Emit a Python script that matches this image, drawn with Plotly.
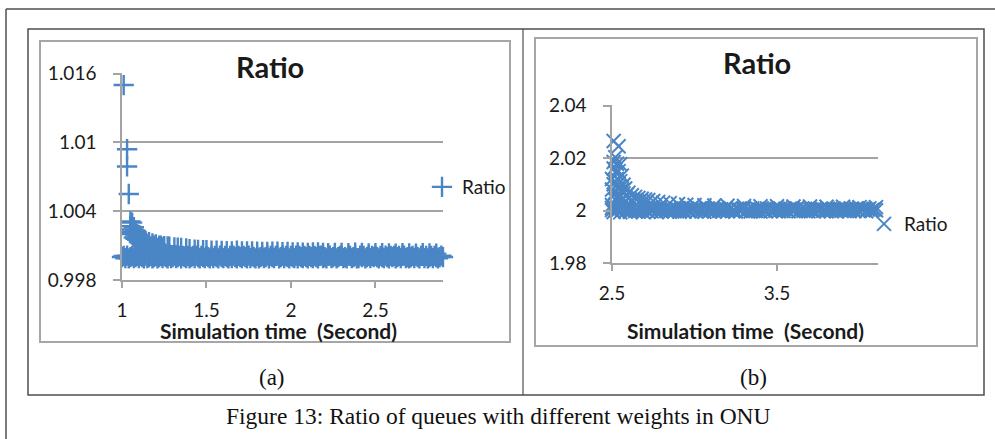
import plotly.graph_objects as go

W, H = 995, 439


def px(x):
    return x / W


def py(y):
    return 1 - y / H


BLUE = "#4A86C6"
GRID = "#A3A3A3"
TXT = "#1A1A1A"
FRAME = "#4F4F4F"
FONT = "Lato"

# ---------------- data: chart (a) ----------------
tail_a_x = [1.01, 1.03, 1.03, 1.04, 1.05, 1.05, 1.06, 1.06, 1.07, 1.07, 1.08, 1.08, 1.09, 1.10,
            1.11, 1.12, 1.13, 1.14, 1.16, 1.18, 1.20, 1.22, 1.25, 1.28, 1.31, 1.35, 1.40,
            1.45, 1.50, 1.56, 1.62, 1.68, 1.74, 1.80, 1.86, 1.92, 1.98, 2.04, 2.10, 2.16,
            2.22, 2.30, 2.38, 2.46, 2.54, 2.62, 2.70, 2.78, 2.86,
            1.05, 1.06, 1.07, 1.08, 1.09, 1.10, 1.11, 1.12, 1.13, 1.15, 1.17, 1.19, 1.21,
            1.24, 1.23, 1.27, 1.33, 1.38, 1.43, 1.48, 1.53, 1.59, 1.65, 1.71, 1.77, 1.83,
            1.89, 1.95, 2.01, 2.07, 2.13, 2.19, 2.26, 2.34, 2.42, 2.50, 2.58, 2.66, 2.74,
            2.82]
tail_a_y = [1.0150, 1.0094, 1.0079, 1.0055, 1.0031, 1.0027, 1.0030, 1.0024, 1.0026, 1.0021,
            1.0023, 1.0019, 1.0020, 1.0018, 1.0017, 1.0016, 1.0015, 1.0014, 1.0013, 1.0012,
            1.0011, 1.0010, 1.00095, 1.0009, 1.00085, 1.0008, 1.00068,
            1.00062, 1.0006, 1.00056, 1.00052, 1.00055, 1.0005, 1.00048, 1.00046, 1.00048,
            1.00044, 1.0004, 1.00036, 1.0004, 1.00034, 1.00036, 1.00038, 1.00033, 1.00034,
            1.0003, 1.00033, 1.00034, 1.0003,
            1.0022, 1.0020, 1.0017, 1.0016, 1.0015, 1.0013, 1.0012, 1.0011, 1.0010, 1.0011,
            1.0009, 1.0010, 1.0008, 1.00085, 1.0010, 1.00092, 1.00082, 1.00076, 1.00064,
            1.0006, 1.00055, 1.00054, 1.0005, 1.00049, 1.0005, 1.00046, 1.00047, 1.00043,
            1.00041, 1.00038, 1.0004, 1.00036, 1.00037, 1.00034, 1.00036, 1.00035, 1.00032,
            1.00034, 1.0003, 1.00032]

band_a_x = [
    1.00, 1.01, 1.02, 1.03, 1.04, 1.05, 1.06, 1.07, 1.08, 1.09,
    1.10, 1.11, 1.12, 1.13, 1.14, 1.15, 1.16, 1.17, 1.18, 1.19,
    1.20, 1.21, 1.22, 1.23, 1.24, 1.25, 1.26, 1.27, 1.28, 1.29,
    1.30, 1.31, 1.32, 1.33, 1.34, 1.35, 1.36, 1.37, 1.38, 1.39,
    1.40, 1.41, 1.42, 1.43, 1.44, 1.45, 1.46, 1.47, 1.48, 1.49,
    1.50, 1.51, 1.52, 1.53, 1.54, 1.55, 1.56, 1.57, 1.58, 1.59,
    1.60, 1.61, 1.62, 1.63, 1.64, 1.65, 1.66, 1.67, 1.68, 1.69,
    1.70, 1.71, 1.72, 1.73, 1.74, 1.75, 1.76, 1.77, 1.78, 1.79,
    1.80, 1.81, 1.82, 1.83, 1.84, 1.85, 1.86, 1.87, 1.88, 1.89,
    1.90, 1.91, 1.92, 1.93, 1.94, 1.95, 1.96, 1.97, 1.98, 1.99,
    2.00, 2.01, 2.02, 2.03, 2.04, 2.05, 2.06, 2.07, 2.08, 2.09,
    2.10, 2.11, 2.12, 2.13, 2.14, 2.15, 2.16, 2.17, 2.18, 2.19,
    2.20, 2.21, 2.22, 2.23, 2.24, 2.25, 2.26, 2.27, 2.28, 2.29,
    2.30, 2.31, 2.32, 2.33, 2.34, 2.35, 2.36, 2.37, 2.38, 2.39,
    2.40, 2.41, 2.42, 2.43, 2.44, 2.45, 2.46, 2.47, 2.48, 2.49,
    2.50, 2.51, 2.52, 2.53, 2.54, 2.55, 2.56, 2.57, 2.58, 2.59,
    2.60, 2.61, 2.62, 2.63, 2.64, 2.65, 2.66, 2.67, 2.68, 2.69,
    2.70, 2.71, 2.72, 2.73, 2.74, 2.75, 2.76, 2.77, 2.78, 2.79,
    2.80, 2.81, 2.82, 2.83, 2.84, 2.85, 2.86, 2.87, 2.88, 2.89,
    2.90]
band_a_y = [
    1.0000, 1.0001, 0.9999, 1.00012, 0.99988, 1.0000, 1.0001, 0.9999, 1.0000, 1.00011,
    0.9999, 1.0001, 1.0000, 0.99989, 1.00012, 0.9999, 1.0000, 1.0001, 0.99988, 1.0000,
    1.0001, 0.99988, 1.0000, 1.0001, 0.9999, 1.00011, 1.0000, 0.99989, 1.0001, 0.9999,
    1.0000, 1.00012, 0.9999, 1.0000, 1.0001, 0.99988, 1.0001, 1.0000, 0.9999, 1.00011,
    0.99989, 1.0000, 1.0001, 0.9999, 1.00012, 1.0000, 0.99988, 1.0001, 1.0000, 0.9999,
    1.0001, 1.0000, 0.99988, 1.00011, 0.9999, 1.0001, 1.0000, 0.99989, 1.00012, 1.0000,
    0.9999, 1.00011, 1.0000, 0.99988, 1.0001, 0.9999, 1.00012, 1.0000, 0.99989, 1.0001,
    1.0000, 0.9999, 1.0001, 1.0000, 0.99988, 1.00012, 0.9999, 1.0001, 1.0000, 0.99989,
    1.00011, 0.99988, 1.0000, 1.0001, 0.9999, 1.0000, 1.00012, 0.99989, 1.0001, 1.0000,
    0.9999, 1.0001, 1.00012, 0.99988, 1.0000, 1.0001, 0.9999, 1.00011, 1.0000, 0.99989,
    1.0001, 1.0000, 0.9999, 1.00012, 0.99988, 1.0001, 1.0000, 0.9999, 1.00011, 1.0000,
    0.99988, 1.0001, 1.0000, 0.9999, 1.00011, 1.0000, 0.99989, 1.0001, 1.00012, 0.9999,
    1.0000, 0.99989, 1.0001, 1.00012, 0.9999, 1.0000, 1.0001, 0.99988, 1.0000, 1.00011,
    1.0001, 0.9999, 1.0000, 0.99988, 1.00012, 1.0001, 0.9999, 1.0000, 1.00011, 0.99989,
    0.9999, 1.00012, 1.0000, 1.0001, 0.99988, 1.0000, 1.00011, 0.9999, 1.0001, 1.0000,
    1.00011, 1.0000, 0.99989, 1.0001, 1.0000, 0.9999, 1.00012, 1.0000, 0.99988, 1.0001,
    1.0000, 1.0001, 0.99988, 1.0000, 1.00011, 0.9999, 1.0001, 1.00012, 0.9999, 1.0000,
    0.99989, 1.0000, 1.0001, 0.9999, 1.00012, 1.0000, 0.99988, 1.0001, 1.00011, 0.9999,
    1.0001, 0.99988, 1.0000, 1.00011, 0.9999, 1.0001, 1.0000, 0.99989, 1.0000, 1.00012,
    1.0000]

a_xtick_vals = [1, 1.5, 2, 2.5]
a_xtick_text = ["1", "1.5", "2", "2.5"]
a_ytick_vals = [0.998, 1.004, 1.010, 1.016]
a_ytick_text = ["0.998", "1.004", "1.01", "1.016"]

# ---------------- data: chart (b) ----------------
tail_b_x = [2.50, 2.50, 2.50, 2.51, 2.54, 2.52, 2.51, 2.53, 2.55, 2.51, 2.52, 2.54, 2.56,
            2.53, 2.55, 2.51, 2.57, 2.54, 2.58, 2.56, 2.52, 2.60, 2.59, 2.62, 2.55, 2.64,
            2.66, 2.68, 2.70, 2.72, 2.75, 2.78, 2.81, 2.85, 2.90, 2.95, 3.00, 3.06, 3.12,
            3.20, 3.30, 3.40, 3.50, 3.60, 3.70, 3.80, 3.90, 4.00, 4.10,
            2.50, 2.51, 2.52, 2.53, 2.54, 2.56, 2.57, 2.53, 2.55, 2.52, 2.57, 2.58, 2.60,
            2.62]
tail_b_y = [2.0021, 2.0120, 2.0080, 2.0265, 2.0245, 2.0203, 2.0185, 2.0178, 2.0176, 2.0160,
            2.0146, 2.0150, 2.0133, 2.0120, 2.0112, 2.0100, 2.0098, 2.0090, 2.0084, 2.0078,
            2.0070, 2.0068, 2.0060, 2.0058, 2.0055, 2.0052, 2.0048, 2.0045, 2.0042, 2.0040,
            2.0036, 2.0033, 2.0030, 2.0028, 2.0025, 2.0022, 2.0021, 2.0020, 2.0019, 2.0018,
            2.0017, 2.0016, 2.0016, 2.0015, 2.0015, 2.0014, 2.0014, 2.0013, 2.0013,
            2.0010, 2.0060, 2.0040, 2.0050, 2.0030, 2.0040, 2.0065, 2.0095, 2.0085, 2.0110,
            2.0045, 2.0035, 2.0045, 2.0035]

band_b_x = [
    2.50, 2.51, 2.52, 2.53, 2.54, 2.55, 2.56, 2.57, 2.58, 2.59,
    2.60, 2.61, 2.62, 2.63, 2.64, 2.65, 2.66, 2.67, 2.68, 2.69,
    2.70, 2.71, 2.72, 2.73, 2.74, 2.75, 2.76, 2.77, 2.78, 2.79,
    2.80, 2.81, 2.82, 2.83, 2.84, 2.85, 2.86, 2.87, 2.88, 2.89,
    2.90, 2.91, 2.92, 2.93, 2.94, 2.95, 2.96, 2.97, 2.98, 2.99,
    3.00, 3.01, 3.02, 3.03, 3.04, 3.05, 3.06, 3.07, 3.08, 3.09,
    3.10, 3.11, 3.12, 3.13, 3.14, 3.15, 3.16, 3.17, 3.18, 3.19,
    3.20, 3.21, 3.22, 3.23, 3.24, 3.25, 3.26, 3.27, 3.28, 3.29,
    3.30, 3.31, 3.32, 3.33, 3.34, 3.35, 3.36, 3.37, 3.38, 3.39,
    3.40, 3.41, 3.42, 3.43, 3.44, 3.45, 3.46, 3.47, 3.48, 3.49,
    3.50, 3.51, 3.52, 3.53, 3.54, 3.55, 3.56, 3.57, 3.58, 3.59,
    3.60, 3.61, 3.62, 3.63, 3.64, 3.65, 3.66, 3.67, 3.68, 3.69,
    3.70, 3.71, 3.72, 3.73, 3.74, 3.75, 3.76, 3.77, 3.78, 3.79,
    3.80, 3.81, 3.82, 3.83, 3.84, 3.85, 3.86, 3.87, 3.88, 3.89,
    3.90, 3.91, 3.92, 3.93, 3.94, 3.95, 3.96, 3.97, 3.98, 3.99,
    4.00, 4.01, 4.02, 4.03, 4.04, 4.05, 4.06, 4.07, 4.08, 4.09,
    4.10]
band_b_y = [
    2.0002, 1.9994, 2.0009, 1.9999, 2.0006, 1.9993, 2.0004, 2.0010, 1.9997, 2.0001,
    2.0007, 1.9994, 2.0003, 2.0009, 1.9998, 2.0005, 1.9996, 2.0008, 2.0000, 1.9994,
    2.0006, 2.0001, 1.9995, 2.0009, 1.9997, 2.0004, 2.0007, 1.9994, 2.0002, 2.0008,
    1.9996, 2.0005, 2.0009, 1.9998, 2.0003, 1.9995, 2.0008, 2.0001, 1.9997, 2.0006,
    2.0004, 1.9995, 2.0008, 2.0000, 1.9996, 2.0007, 2.0002, 1.9997, 2.0009, 1.9999,
    2.0005, 1.9996, 2.0003, 2.0008, 1.9998, 2.0006, 1.9995, 2.0004, 2.0008, 1.9997,
    2.0001, 2.0007, 1.9996, 2.0003, 2.0009, 1.9998, 2.0005, 1.9996, 2.0002, 2.0007,
    1.9997, 2.0004, 2.0008, 1.9999, 2.0002, 1.9996, 2.0007, 2.0003, 1.9998, 2.0006,
    2.0008, 1.9997, 2.0002, 2.0005, 1.9996, 2.0008, 2.0000, 1.9998, 2.0006, 2.0003,
    1.9996, 2.0007, 2.0001, 1.9998, 2.0008, 2.0004, 1.9997, 2.0002, 2.0007, 1.9999,
    2.0005, 1.9997, 2.0008, 2.0002, 1.9998, 2.0006, 2.0001, 1.9997, 2.0007, 2.0003,
    1.9998, 2.0004, 2.0008, 1.9997, 2.0002, 2.0006, 1.9999, 2.0007, 2.0001, 1.9997,
    2.0006, 2.0002, 1.9998, 2.0008, 2.0003, 1.9997, 2.0005, 2.0007, 1.9999, 2.0002,
    1.9997, 2.0007, 2.0003, 1.9998, 2.0006, 2.0001, 1.9997, 2.0008, 2.0004, 1.9999,
    2.0004, 1.9998, 2.0007, 2.0002, 1.9997, 2.0006, 2.0003, 1.9999, 2.0008, 2.0001,
    1.9998, 2.0006, 2.0002, 2.0007, 1.9997, 2.0004, 2.0008, 1.9999, 2.0003, 2.0006,
    2.0001]

b_xtick_vals = [2.5, 3.5]
b_xtick_text = ["2.5", "3.5"]
b_ytick_vals = [1.98, 2.00, 2.02, 2.04]
b_ytick_text = ["1.98", "2", "2.02", "2.04"]

series_name = "Ratio"
chart_title = "Ratio"
x_title = "Simulation time  (Second)"
labels = ["(a)", "(b)"]
caption = "Figure 13: Ratio of queues with different weights in ONU"

fig = go.Figure()
fig.add_trace(go.Scatter(
    x=tail_a_x + band_a_x, y=tail_a_y + band_a_y, mode="markers", name=series_name,
    marker=dict(symbol="cross-thin", size=14.5, color=BLUE, line=dict(color=BLUE, width=2.4)),
    xaxis="x", yaxis="y", cliponaxis=False, legend="legend"))
fig.add_trace(go.Scatter(
    x=tail_b_x + band_b_x, y=tail_b_y + band_b_y, mode="markers", name=series_name,
    marker=dict(symbol="x-thin", size=14, color=BLUE, line=dict(color=BLUE, width=2.0)),
    xaxis="x2", yaxis="y2", cliponaxis=False, legend="legend2"))

tickfont = dict(family=FONT, size=19, color=TXT)
common_x = dict(ticks="outside", ticklen=6, tickwidth=1.5, tickcolor=GRID, showline=True,
                linecolor=GRID, linewidth=1.5, showgrid=False, zeroline=False, automargin=False,
                tickfont=tickfont, ticklabelstandoff=6)
common_y = dict(ticks="outside", ticklen=7, tickwidth=1.5, tickcolor=GRID, showline=True,
                linecolor=GRID, linewidth=1.5, showgrid=True, gridcolor=GRID, gridwidth=1.5,
                zeroline=False, automargin=False, tickfont=tickfont, ticklabelstandoff=13)

fig.update_layout(
    template="none",
    width=W, height=H, margin=dict(l=0, r=0, t=0, b=0, pad=0, autoexpand=False),
    paper_bgcolor="white", plot_bgcolor="white", showlegend=True,
    xaxis=dict(domain=[px(122), px(443)], range=[1, 2.9], tickvals=a_xtick_vals,
               ticktext=a_xtick_text, anchor="y", **common_x),
    yaxis=dict(domain=[py(280), py(73)], range=[0.998, 1.01605], tickvals=a_ytick_vals,
               ticktext=a_ytick_text, anchor="x", **common_y),
    xaxis2=dict(domain=[px(612), px(878)], range=[2.5, 4.112], tickvals=b_xtick_vals,
                ticktext=b_xtick_text, anchor="y2", **common_x),
    yaxis2=dict(domain=[py(263), py(105)], range=[1.98, 2.0402], tickvals=b_ytick_vals,
                ticktext=b_ytick_text, anchor="x2", **common_y),
    legend=dict(x=px(422), y=py(187), xanchor="left", yanchor="middle",
                bgcolor="rgba(0,0,0,0)", borderwidth=0,
                font=dict(family=FONT, size=19, color=TXT)),
    legend2=dict(x=px(864), y=py(224), xanchor="left", yanchor="middle",
                 bgcolor="rgba(0,0,0,0)", borderwidth=0,
                 font=dict(family=FONT, size=19, color=TXT)),
)

shapes = []
shapes.append(dict(type="line", xref="paper", yref="paper", x0=px(6), x1=px(995), y0=py(9), y1=py(9),
                   line=dict(color=FRAME, width=1.5)))
shapes.append(dict(type="line", xref="paper", yref="paper", x0=px(6), x1=px(6), y0=py(9), y1=py(439),
                   line=dict(color=FRAME, width=1.5)))
shapes.append(dict(type="rect", xref="paper", yref="paper", x0=px(28), x1=px(984), y0=py(29), y1=py(395),
                   line=dict(color=FRAME, width=1.5)))
shapes.append(dict(type="line", xref="paper", yref="paper", x0=px(523), x1=px(523), y0=py(29), y1=py(395),
                   line=dict(color=FRAME, width=1.2)))
shapes.append(dict(type="rect", xref="paper", yref="paper", x0=px(40), x1=px(510), y0=py(41), y1=py(342),
                   line=dict(color="#A6A6A6", width=2)))
shapes.append(dict(type="rect", xref="paper", yref="paper", x0=px(535), x1=px(977), y0=py(38), y1=py(346),
                   line=dict(color="#A6A6A6", width=2)))
fig.update_layout(shapes=shapes)

ann = []
ann.append(dict(text="<b>%s</b>" % chart_title, x=px(270), y=py(67), xref="paper", yref="paper",
                showarrow=False, xanchor="center", yanchor="middle",
                font=dict(family=FONT, size=29, color=TXT)))
ann.append(dict(text="<b>%s</b>" % chart_title, x=px(757), y=py(63), xref="paper", yref="paper",
                showarrow=False, xanchor="center", yanchor="middle",
                font=dict(family=FONT, size=29, color=TXT)))
ann.append(dict(text="<b>%s</b>" % x_title, x=px(278), y=py(330), xref="paper", yref="paper",
                showarrow=False, xanchor="center", yanchor="middle",
                font=dict(family=FONT, size=21, color=TXT)))
ann.append(dict(text="<b>%s</b>" % x_title, x=px(745), y=py(330), xref="paper", yref="paper",
                showarrow=False, xanchor="center", yanchor="middle",
                font=dict(family=FONT, size=21, color=TXT)))
ann.append(dict(text=labels[0], x=px(272), y=py(377), xref="paper", yref="paper",
                showarrow=False, xanchor="center", yanchor="middle",
                font=dict(family="Liberation Serif", size=23, color="#111111")))
ann.append(dict(text=labels[1], x=px(753), y=py(377), xref="paper", yref="paper",
                showarrow=False, xanchor="center", yanchor="middle",
                font=dict(family="Liberation Serif", size=23, color="#111111")))
ann.append(dict(text=caption, x=px(498), y=py(416), xref="paper", yref="paper",
                showarrow=False, xanchor="center", yanchor="middle",
                font=dict(family="Liberation Serif", size=23.5, color="#111111")))
fig.update_layout(annotations=ann)

fig.write_html("out.html", config={"displayModeBar": False},
               post_script="document.body.style.margin='0';")
